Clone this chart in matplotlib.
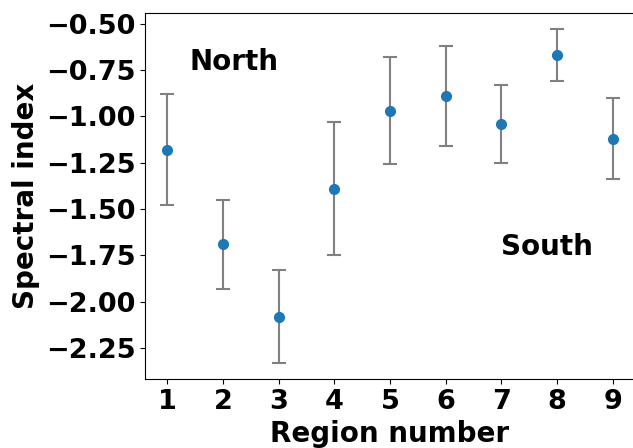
import matplotlib.pyplot as plt

# region numbers, spectral index and its uncertainty
regions = [1, 2, 3, 4, 5, 6, 7, 8, 9]
spec_index = [-1.18, -1.69, -2.08, -1.39, -0.97, -0.89, -1.04, -0.67, -1.12]
spec_err = [0.30, 0.24, 0.25, 0.36, 0.29, 0.27, 0.21, 0.14, 0.22]

plt.rcParams['font.weight'] = 'bold'
plt.rcParams['axes.labelweight'] = 'bold'

fig = plt.figure(figsize=(6.33, 4.48), dpi=100)
# the original is cropped, so the axes run slightly past the figure edges
ax = fig.add_axes([145 / 633, 69 / 448, 490 / 633, 366 / 448])

ax.errorbar(regions, spec_index, yerr=spec_err, fmt='o', color='#1f77b4',
            ecolor='gray', elinewidth=1.5, capsize=5, capthick=1.5, markersize=7)

ax.text(1.4, -0.75, 'North', fontsize=20, fontweight='bold')
ax.text(7.0, -1.75, 'South', fontsize=20, fontweight='bold')

ax.set_xlim(0.6, 9.4)
ax.set_ylim(-2.417, -0.443)
ax.set_xticks(regions)
ax.set_yticks([-2.25, -2.0, -1.75, -1.5, -1.25, -1.0, -0.75, -0.5])
ax.tick_params(labelsize=19.5)
ax.set_xlabel('Region number', fontsize=20)
ax.set_ylabel('Spectral index', fontsize=20)

fig.savefig('out.png', dpi=100)
